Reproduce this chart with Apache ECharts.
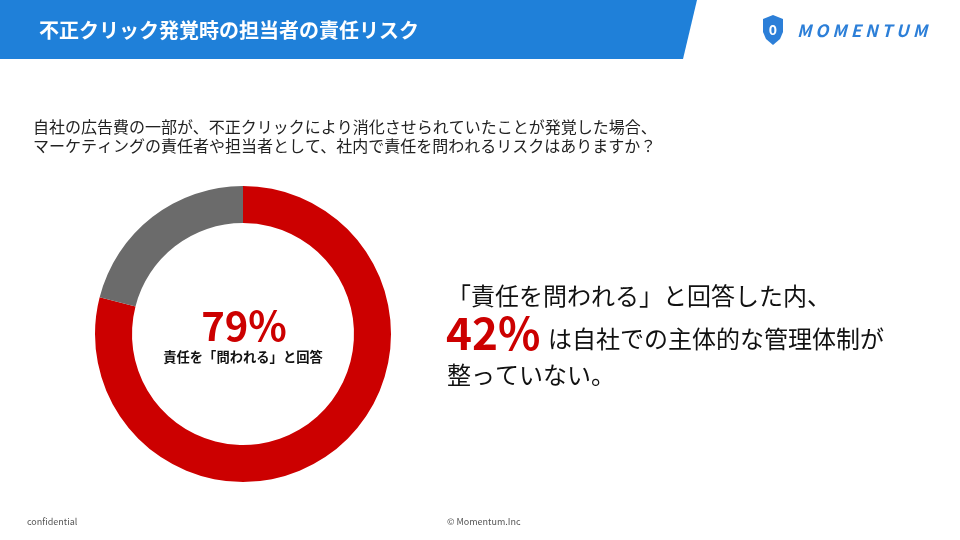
<!DOCTYPE html>
<html>
<head>
<meta charset="utf-8">
<script src="https://cdn.jsdelivr.net/npm/echarts@6/dist/echarts.min.js"></script>
<style>
  html, body { margin: 0; padding: 0; background: #ffffff; }
  #chart { width: 960px; height: 540px; }
</style>
</head>
<body>
<div id="chart"></div>
<script>
// データ
var answerNames = ['責任を問われる', 'その他'];
var answerValues = [79, 21];
var answerColors = ['#cc0000', '#6b6b6b'];

var titleText = '不正クリック発覚時の担当者の責任リスク';
var questionLines = [
    '自社の広告費の一部が、不正クリックにより消化させられていたことが発覚した場合、',
    'マーケティングの責任者や担当者として、社内で責任を問われるリスクはありますか？'
];
var centerValue = '79%';
var centerLabel = '責任を「問われる」と回答';
var subValue = '42%';

var FONT = '"Noto Sans CJK JP", "Noto Sans", sans-serif';

var chart = echarts.init(document.getElementById('chart'));

var pieData = answerValues.map(function (v, i) {
    return { value: v, name: answerNames[i], itemStyle: { color: answerColors[i] } };
});

chart.setOption({
    animation: false,
    backgroundColor: '#ffffff',
    series: [{
        type: 'pie',
        radius: [111, 148],
        center: [243, 334],
        startAngle: 90,
        clockwise: true,
        silent: true,
        label: { show: false },
        labelLine: { show: false },
        itemStyle: { borderWidth: 0 },
        data: pieData
    }],
    graphic: [
        // ヘッダー帯
        {
            type: 'polygon',
            shape: { points: [[0, 0], [697, 0], [683, 59], [0, 59]] },
            style: { fill: '#1f80d9' }
        },
        {
            type: 'text', x: 39, y: 30,
            style: { text: titleText, fill: '#ffffff', font: 'bold 20px ' + FONT, verticalAlign: 'middle' }
        },
        // ロゴ
        {
            type: 'polygon',
            shape: { points: [[773, 15], [783, 19], [783, 32], [780, 39], [773, 45], [766, 39], [763, 32], [763, 19]] },
            style: { fill: '#2c7fd8' }
        },
        {
            type: 'text', x: 773, y: 30,
            style: { text: '0', fill: '#ffffff', font: 'bold 14px ' + FONT, align: 'center', verticalAlign: 'middle' }
        },
        {
            type: 'text', x: 797, y: 31,
            style: { text: 'M O M E N T U M', fill: '#2c7fd8', font: 'italic bold 17px ' + FONT, verticalAlign: 'middle' }
        },
        // 設問
        {
            type: 'text', x: 33, y: 117,
            style: { text: questionLines.join('\n'), fill: '#222222', font: '16px ' + FONT, lineHeight: 19 }
        },
        // ドーナツ中央
        {
            type: 'text', x: 244, y: 326,
            style: { text: centerValue, fill: '#cc0000', font: 'bold 40px ' + FONT, align: 'center', verticalAlign: 'middle' }
        },
        {
            type: 'text', x: 243, y: 357,
            style: { text: centerLabel, fill: '#111111', font: 'bold 13.3px ' + FONT, align: 'center', verticalAlign: 'middle' }
        },
        // 右側のコメント
        {
            type: 'text', x: 447, y: 296,
            style: { text: '「責任を問われる」と回答した内、', fill: '#111111', font: '24px ' + FONT, verticalAlign: 'middle' }
        },
        {
            type: 'text', x: 446, y: 333,
            style: { text: subValue, fill: '#cc0000', font: 'bold 44px ' + FONT, verticalAlign: 'middle' }
        },
        {
            type: 'text', x: 548, y: 339,
            style: { text: 'は自社での主体的な管理体制が', fill: '#111111', font: '24px ' + FONT, verticalAlign: 'middle' }
        },
        {
            type: 'text', x: 447, y: 375,
            style: { text: '整っていない。', fill: '#111111', font: '24px ' + FONT, verticalAlign: 'middle' }
        },
        // フッター
        {
            type: 'text', x: 27, y: 522,
            style: { text: 'confidential', fill: '#555555', font: '9px ' + FONT, verticalAlign: 'middle' }
        },
        {
            type: 'text', x: 447, y: 522,
            style: { text: '© Momentum.Inc', fill: '#555555', font: '9px ' + FONT, verticalAlign: 'middle' }
        }
    ]
});
</script>
</body>
</html>
